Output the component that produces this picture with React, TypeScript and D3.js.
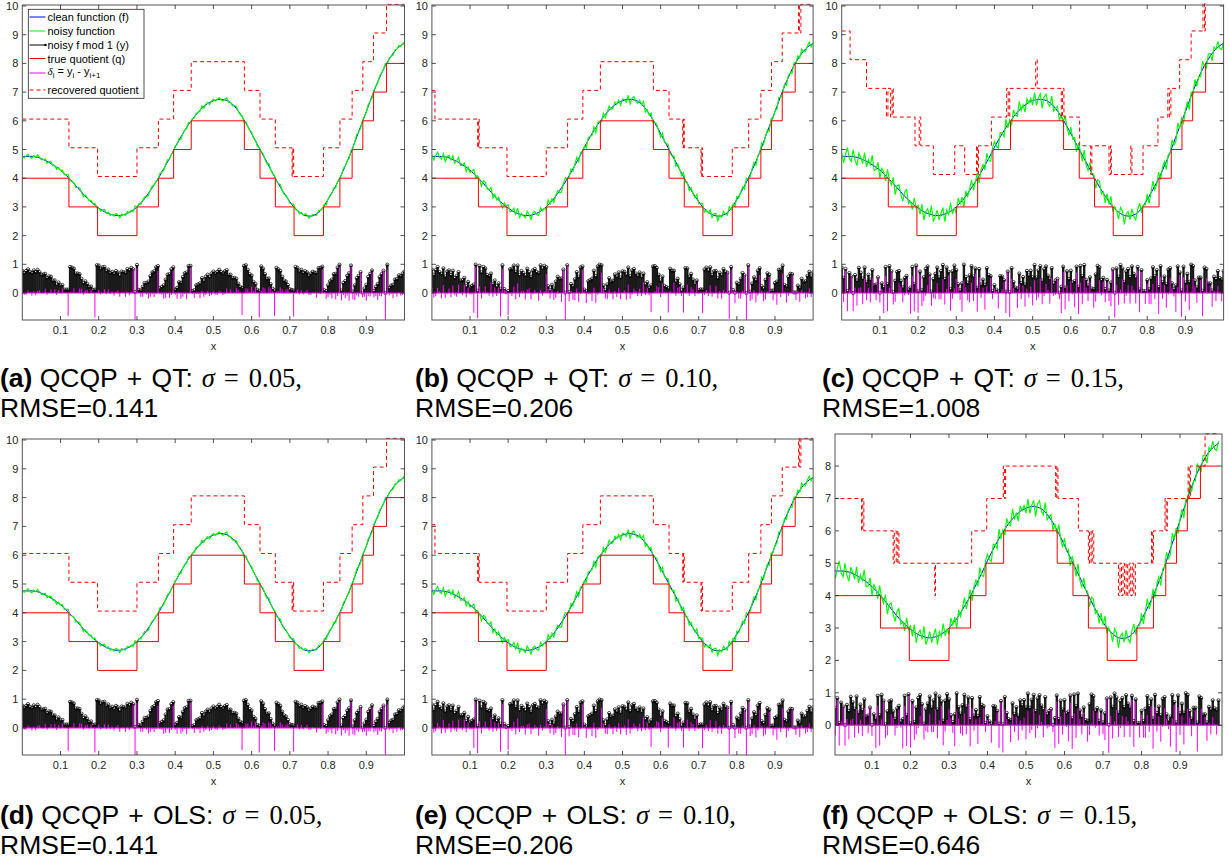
import React from "react";
import * as d3 from "d3";

// ---------- data ----------
const XS = [0,.005,.01,.015,.02,.025,.03,.035,.04,.045,.05,.055,.06,.065,.07,.075,.08,.085,.09,.095,
.1,.105,.11,.115,.12,.125,.13,.135,.14,.145,.15,.155,.16,.165,.17,.175,.18,.185,.19,.195,
.2,.205,.21,.215,.22,.225,.23,.235,.24,.245,.25,.255,.26,.265,.27,.275,.28,.285,.29,.295,
.3,.305,.31,.315,.32,.325,.33,.335,.34,.345,.35,.355,.36,.365,.37,.375,.38,.385,.39,.395,
.4,.405,.41,.415,.42,.425,.43,.435,.44,.445,.45,.455,.46,.465,.47,.475,.48,.485,.49,.495,
.5,.505,.51,.515,.52,.525,.53,.535,.54,.545,.55,.555,.56,.565,.57,.575,.58,.585,.59,.595,
.6,.605,.61,.615,.62,.625,.63,.635,.64,.645,.65,.655,.66,.665,.67,.675,.68,.685,.69,.695,
.7,.705,.71,.715,.72,.725,.73,.735,.74,.745,.75,.755,.76,.765,.77,.775,.78,.785,.79,.795,
.8,.805,.81,.815,.82,.825,.83,.835,.84,.845,.85,.855,.86,.865,.87,.875,.88,.885,.89,.895,
.9,.905,.91,.915,.92,.925,.93,.935,.94,.945,.95,.955,.96,.965,.97,.975,.98,.985,.99,.995,
1];

const CLEAN = [4.75,4.76,4.76,4.76,4.76,4.76,4.75,4.74,4.73,4.71,4.68,4.65,4.62,4.59,4.55,4.51,4.47,4.43,4.38,4.33,
4.28,4.22,4.16,4.10,4.03,3.96,3.89,3.82,3.74,3.67,3.59,3.52,3.44,3.37,3.30,3.24,3.18,3.12,3.06,3.01,
2.96,2.92,2.87,2.83,2.80,2.77,2.75,2.73,2.71,2.70,2.70,2.70,2.71,2.73,2.75,2.78,2.81,2.85,2.89,2.94,
3.00,3.07,3.14,3.21,3.29,3.38,3.47,3.57,3.67,3.77,3.87,3.98,4.09,4.21,4.33,4.45,4.57,4.69,4.82,4.95,
5.08,5.20,5.32,5.44,5.55,5.66,5.77,5.87,5.96,6.05,6.14,6.22,6.30,6.37,6.44,6.50,6.55,6.60,6.64,6.67,
6.70,6.72,6.74,6.75,6.75,6.74,6.73,6.71,6.68,6.63,6.58,6.51,6.43,6.34,6.25,6.14,6.03,5.92,5.80,5.68,
5.55,5.43,5.30,5.18,5.05,4.93,4.80,4.68,4.56,4.43,4.30,4.18,4.05,3.93,3.81,3.70,3.58,3.48,3.37,3.28,
3.18,3.09,3.01,2.94,2.87,2.82,2.77,2.73,2.70,2.69,2.68,2.68,2.69,2.72,2.75,2.80,2.86,2.95,3.04,3.15,
3.26,3.37,3.49,3.61,3.73,3.86,3.99,4.13,4.28,4.43,4.58,4.74,4.90,5.08,5.26,5.44,5.62,5.79,5.97,6.14,
6.32,6.50,6.68,6.86,7.03,7.20,7.36,7.51,7.66,7.80,7.93,8.04,8.15,8.25,8.35,8.43,8.50,8.56,8.62,8.66,
8.70];

// deviations of the noisy function from the clean curve, in hundredths
const NOISE_05 = [3,-5,1,7,-2,-6,4,-1,8,2,-4,0,5,-7,3,6,-3,1,-8,4,
-1,6,-4,2,9,-5,0,3,-6,1,7,-2,-9,4,2,-3,5,-1,6,-4,
0,-7,3,8,-2,5,-5,1,-3,7,2,-8,4,0,-4,6,-1,3,-6,9,
-2,4,-5,1,6,-3,-7,2,5,-1,3,-4,8,0,-6,2,7,-3,1,-5,
4,-2,6,-8,1,3,-5,7,-1,2,-4,5,0,-3,8,-6,2,4,-7,1,
5,-3,0,6,-2,-5,3,9,-4,1,-6,2,7,-1,-3,4,-8,5,1,-2,
6,-4,2,-7,3,0,5,-2,-6,8,1,-3,4,-5,2,7,-1,-4,3,0,
-5,2,8,-3,1,-6,4,-2,6,3,-7,0,5,-1,-4,7,2,-3,6,-8,
1,4,-2,5,-6,3,0,-4,7,-1,2,-5,6,-3,1,8,-2,-6,4,2,
-3,6,-1,-7,4,2,-4,5,0,-2,7,-5,3,1,-6,4,-1,6,-3,2,
5];
const NOISE_10 = [7,-12,4,15,-3,-9,11,-16,2,8,-5,13,-10,1,18,-7,-2,10,-14,6,
-8,3,14,-11,5,-1,-17,9,12,-4,0,16,-13,7,-6,10,-3,-15,8,2,
11,-9,-2,13,-6,19,-12,4,-1,-8,15,3,-14,6,9,-5,-11,12,-3,1,
-10,17,-4,8,-13,2,10,-7,-16,5,14,-1,-6,11,-9,3,16,-12,7,-2,
4,-14,9,1,-5,12,-18,6,3,-8,13,-11,0,15,-4,-7,10,-2,8,-13,
6,2,-9,14,-16,5,11,-3,-7,9,-1,17,-12,4,-6,13,-10,2,8,-4,
-11,15,-5,3,12,-8,-2,10,-15,7,1,-9,14,-6,5,-13,9,-1,-4,16,
-7,4,11,-12,2,-3,13,-10,6,8,-16,3,-5,12,-1,-9,15,-4,7,-14,
10,-6,1,9,-11,14,-2,-8,5,12,-13,4,-3,16,-9,2,7,-15,11,-5,
3,-10,13,-4,-7,8,-12,6,1,-14,9,-2,11,-6,15,-3,-9,4,12,-8,
2];
const NOISE_15 = [14,-23,8,31,-6,-18,25,-11,-29,17,3,-14,27,-20,9,-4,33,-16,-8,22,
-27,12,5,-19,28,-2,-13,21,-31,7,18,-9,-24,15,30,-12,1,-21,26,-5,
10,-17,23,-28,4,16,-10,32,-22,-3,19,-15,6,25,-26,11,-7,29,-13,2,
-20,24,-4,13,-30,18,-11,5,27,-19,-1,21,-25,9,14,-16,30,-6,-23,12,
20,-8,-27,15,3,-21,28,-12,7,-18,24,-3,-14,31,-9,6,-25,17,-2,11,
-15,26,-20,4,19,-30,10,22,-7,-13,29,-17,1,16,-24,8,-11,27,-4,-19,
23,-6,12,-26,17,2,-21,30,-10,-16,25,-2,9,-28,14,20,-13,5,-23,18,
-9,28,-18,7,-1,-25,21,13,-31,6,16,-12,24,-5,-20,11,27,-15,3,-8,
19,-24,2,29,-14,-6,22,-19,10,15,-27,8,-3,26,-11,-17,31,-7,12,-22,
5,17,-29,13,-9,24,-16,3,-12,28,-4,-20,18,9,-26,14,-1,21,-10,-18,
7];

const Q_BREAKS = [0,0.122,0.197,0.300,0.356,0.396,0.442,0.581,0.622,0.662,0.711,0.788,0.831,0.863,0.891,0.919,0.953,1];
const Q_LEVELS = [4,3,2,3,4,5,6,5,4,3,2,3,4,5,6,7,8];

const REC_A_BREAKS = [0,0.122,0.197,0.300,0.356,0.396,0.442,0.581,0.622,0.662,0.706,0.708,0.710,0.788,0.831,0.863,0.891,0.919,0.953,1];
const REC_A_LEVELS = [6,5,4,5,6,7,8,7,6,5,4,5,4,5,6,7,8,9,10];

const REC_B_BREAKS = [0,0.008,0.120,0.122,0.124,0.197,0.300,0.356,0.396,0.442,0.581,0.622,0.658,0.660,0.662,0.706,0.708,0.710,0.788,0.831,0.863,0.891,0.919,0.962,0.964,0.968,1];
const REC_B_LEVELS = [7,6,5,6,5,4,5,6,7,8,7,6,5,6,5,4,5,4,5,6,7,8,9,10,9,10];

const REC_C_BREAKS = [0,.022,.065,.117,.121,.128,.132,.135,.192,.203,.207,.240,.296,.322,.353,.356,.358,.392,.432,.436,.440,.508,.512,.575,.578,.582,.623,.652,.655,.700,.704,.706,.757,.760,.789,.828,.854,.858,.862,.885,.915,.946,.950,.952,1];
const REC_C_LEVELS = [9,8,7,6,7,6,7,6,5,6,5,4,5,4,5,4,5,6,7,6,7,8,7,6,7,6,5,4,5,4,5,4,5,4,5,6,7,6,7,8,9,10,9,10];

const REC_F_BREAKS = [0,.073,.076,.079,.155,.158,.163,.167,.170,.263,.265,.359,.398,.441,.444,.447,.577,.580,.583,.636,.662,.665,.669,.672,.676,.740,.744,.748,.752,.756,.760,.764,.768,.772,.776,.780,.784,.826,.829,.831,.861,.864,.867,.921,.924,.927,.965,1];
const REC_F_LEVELS = [7,6,7,6,5,6,5,6,5,4,5,6,7,8,7,8,7,8,7,6,5,6,5,6,5,4,5,4,5,4,5,4,5,4,5,4,5,6,5,6,7,6,7,8,7,8,9];

const REC_OFFSET = [0.06, 0.06, 0.13, 0.06, 0.06, 0.0];

const X_TICKS = [0.1,0.2,0.3,0.4,0.5,0.6,0.7,0.8,0.9];
const Y_TICKS_10 = [0,1,2,3,4,5,6,7,8,9,10];
const Y_TICKS_8 = [0,1,2,3,4,5,6,7,8];

const CAP_LABELS = ["(a)","(b)","(c)","(d)","(e)","(f)"];
const CAP_METHOD = ["QCQP","QCQP","QCQP","QCQP","QCQP","QCQP"];
const CAP_METHOD2 = ["QT:","QT:","QT:","OLS:","OLS:","OLS:"];
const CAP_SIGMA = ["0.05","0.10","0.15","0.05","0.10","0.15"];
const CAP_RMSE = ["0.141","0.206","1.008","0.141","0.206","0.646"];

const LEGEND_LABELS = ["clean function (f)","noisy function","noisy f mod 1 (y)","true quotient (q)","delta","recovered quotient"];

// ---------- layout ----------
const TOP = { top: 5, bottom: 320, yDom: [-0.94, 10.035] };
const BOT = { top: 439, bottom: 755, yDom: [-0.9375, 10.035] };
const PANELS = [
  { left: 22.3, right: 404.5, xDom: [0, 1], ...TOP, yTicks: Y_TICKS_10, noise: NOISE_05, rb: REC_A_BREAKS, rl: REC_A_LEVELS, legend: true, capX: 0, capY: 387 },
  { left: 431.9, right: 813.1, xDom: [0, 1], ...TOP, yTicks: Y_TICKS_10, noise: NOISE_10, rb: REC_B_BREAKS, rl: REC_B_LEVELS, legend: false, capX: 415, capY: 387 },
  { left: 841.7, right: 1223.6, xDom: [0, 1], ...TOP, yTicks: Y_TICKS_10, noise: NOISE_15, rb: REC_C_BREAKS, rl: REC_C_LEVELS, legend: false, capX: 822, capY: 387 },
  { left: 22.3, right: 404.5, xDom: [0, 1], ...BOT, yTicks: Y_TICKS_10, noise: NOISE_05, rb: REC_A_BREAKS, rl: REC_A_LEVELS, legend: false, capX: 0, capY: 824 },
  { left: 431.9, right: 813.1, xDom: [0, 1], ...BOT, yTicks: Y_TICKS_10, noise: NOISE_10, rb: REC_B_BREAKS, rl: REC_B_LEVELS, legend: false, capX: 415, capY: 824 },
  { left: 835, right: 1222, xDom: [0.004, 1.009], top: 434, bottom: 755, yDom: [-0.92, 8.99], yTicks: Y_TICKS_8, noise: NOISE_15, rb: REC_F_BREAKS, rl: REC_F_LEVELS, legend: false, capX: 822, capY: 824 },
];

const AX = "#262626";
const FONT = "'Liberation Sans', Arial, Helvetica, sans-serif";
const SERIF = "'Liberation Serif', 'DejaVu Serif', serif";

function stepPoints(breaks: number[], levels: number[], off: number): [number, number][] {
  const pts: [number, number][] = levels.map((l, i) => [breaks[i], l + off]);
  pts.push([breaks[breaks.length - 1], levels[levels.length - 1] + off]);
  return pts;
}

function Legend() {
  const rows = [17, 31, 45, 58.5, 73, 90];
  const colors = ["#0000ff", "#00ff00", "#000000", "#ff0000", "#ff00ff", "#ff0000"];
  const x1 = 29.5, x2 = 45.5, tx = 47.5;
  return (
    <g>
      <rect x={28.3} y={9.3} width={115.7} height={89} fill="#fff" stroke={AX} strokeWidth={0.8} />
      {rows.map((ry, i) => (
        <g key={i}>
          <line x1={x1} x2={x2} y1={ry} y2={ry} stroke={colors[i]} strokeWidth={1}
            strokeDasharray={i === 5 ? "4,3" : undefined} />
          {i === 2 && <circle cx={x2} cy={ry} r={1.3} fill="#000" />}
          {i !== 4 ? (
            <text x={tx} y={ry + 4} fontSize={11} fontFamily={FONT} fill="#000">{LEGEND_LABELS[i]}</text>
          ) : (
            <text x={tx} y={ry + 2} fontSize={11} fontFamily={FONT} fill="#000">
              <tspan fontFamily={SERIF} fontStyle="italic">δ</tspan>
              <tspan fontSize={8} dy={3}>i</tspan>
              <tspan dy={-3}> = y</tspan>
              <tspan fontSize={8} dy={3}>i</tspan>
              <tspan dy={-3}> - y</tspan>
              <tspan fontSize={8} dy={3}>i+1</tspan>
            </text>
          )}
        </g>
      ))}
    </g>
  );
}

function Panel({ p, idx }: { p: any; idx: number }) {
  const x = d3.scaleLinear().domain(p.xDom).range([p.left, p.right]);
  const y = d3.scaleLinear().domain(p.yDom).range([p.bottom, p.top]);
  const noisy = CLEAN.map((c, i) => c + p.noise[i] / 100);
  const ymod = noisy.map((v) => v - Math.floor(v));
  const delta = ymod.slice(0, -1).map((v, i) => v - ymod[i + 1]);
  const line = d3.line<[number, number]>().x((d) => x(d[0])).y((d) => y(d[1]));
  const step = d3.line<[number, number]>().x((d) => x(d[0])).y((d) => y(d[1])).curve(d3.curveStepAfter);
  const cleanPath = line(XS.map((xv, i) => [xv, CLEAN[i]] as [number, number])) || "";
  const noisyPath = line(XS.map((xv, i) => [xv, noisy[i]] as [number, number])) || "";
  const qPath = step(stepPoints(Q_BREAKS, Q_LEVELS, 0)) || "";
  const rPath = step(stepPoints(p.rb, p.rl, REC_OFFSET[idx])) || "";
  const clipId = `clip${idx}`;
  const y0 = y(0);
  const tl = 4;
  const cx = (p.left + p.right) / 2;
  return (
    <g>
      <defs>
        <clipPath id={clipId}>
          <rect x={p.left} y={p.top - 1.5} width={p.right - p.left} height={p.bottom - p.top + 1.5} />
        </clipPath>
      </defs>
      <rect x={p.left} y={p.top} width={p.right - p.left} height={p.bottom - p.top} fill="#fff" />
      <g clipPath={`url(#${clipId})`}>
        <path d={cleanPath} fill="none" stroke="#0000ff" strokeWidth={1} />
        <path d={noisyPath} fill="none" stroke="#00ff00" strokeWidth={1.15} />
        {XS.map((xv, i) => (
          <line key={"s" + i} x1={x(xv)} x2={x(xv)} y1={y0} y2={y(ymod[i])} stroke="#1a1a1a" strokeWidth={2.4} />
        ))}
        {XS.map((xv, i) => (
          <circle key={"c" + i} cx={x(xv)} cy={y(ymod[i])} r={1.6} fill="none" stroke="#000" strokeWidth={0.7} />
        ))}
        <path d={qPath} fill="none" stroke="#ff0000" strokeWidth={1} />
        <line x1={p.left} x2={p.right} y1={y0} y2={y0} stroke="#ff00ff" strokeWidth={1} />
        {delta.map((dv, i) => (
          <line key={"d" + i} x1={x(XS[i])} x2={x(XS[i])} y1={y0} y2={y(dv)} stroke="#ff00ff" strokeWidth={1} />
        ))}
        <path d={rPath} fill="none" stroke="#ff0000" strokeWidth={1} strokeDasharray="4,3" />
      </g>
      <rect x={p.left} y={p.top} width={p.right - p.left} height={p.bottom - p.top} fill="none" stroke="#555" strokeWidth={1} />
      {X_TICKS.map((t) => (
        <g key={"xt" + t}>
          <line x1={x(t)} x2={x(t)} y1={p.bottom} y2={p.bottom - tl} stroke={AX} strokeWidth={0.8} />
          <line x1={x(t)} x2={x(t)} y1={p.top} y2={p.top + tl} stroke={AX} strokeWidth={0.8} />
          <text x={x(t)} y={p.bottom + 14} fontSize={11} fontFamily={FONT} fill={AX} textAnchor="middle">{t}</text>
        </g>
      ))}
      {p.yTicks.map((t: number) => (
        <g key={"yt" + t}>
          <line x1={p.left} x2={p.left + tl} y1={y(t)} y2={y(t)} stroke={AX} strokeWidth={0.8} />
          <line x1={p.right} x2={p.right - tl} y1={y(t)} y2={y(t)} stroke={AX} strokeWidth={0.8} />
          <text x={p.left - 4} y={y(t) + 4} fontSize={11} fontFamily={FONT} fill={AX} textAnchor="end">{t}</text>
        </g>
      ))}
      <text x={cx} y={p.bottom + 30} fontSize={11} fontFamily={FONT} fill={AX} textAnchor="middle">x</text>
      {p.legend && <Legend />}
      <text x={p.capX} y={p.capY} fontSize={26.5} fontFamily={FONT} fill="#000">
        <tspan fontWeight="bold">{CAP_LABELS[idx]}</tspan>
        <tspan>{" " + CAP_METHOD[idx]}</tspan>
        <tspan dx={2}>{" + "}</tspan>
        <tspan dx={2}>{CAP_METHOD2[idx]}</tspan>
        <tspan fontFamily={SERIF} fontStyle="italic" dx={9}>σ</tspan>
        <tspan fontFamily={SERIF} dx={9}>{"="}</tspan>
        <tspan fontFamily={SERIF} dx={10}>{CAP_SIGMA[idx] + ","}</tspan>
      </text>
      <text x={p.capX} y={p.capY + 30} fontSize={26.5} fontFamily={FONT} fill="#000">{"RMSE=" + CAP_RMSE[idx]}</text>
    </g>
  );
}

export default function App() {
  return (
    <svg width={1228} height={865} style={{ position: "absolute", left: 0, top: 0, background: "#fff" }}>
      <rect x={0} y={0} width={1228} height={865} fill="#fff" />
      {PANELS.map((p, i) => (
        <Panel key={i} p={p} idx={i} />
      ))}
    </svg>
  );
}
